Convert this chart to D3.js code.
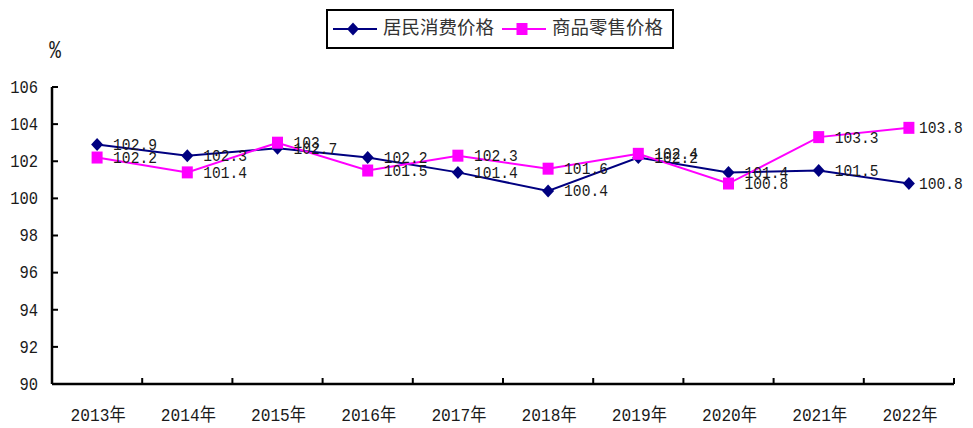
<!DOCTYPE html>
<html>
<head>
<meta charset="utf-8">
<script src="https://cdn.jsdelivr.net/npm/d3@7"></script>
<style>
  body { margin: 0; background: #fff; }
  svg { display: block; }
</style>
</head>
<body>
<div id="chart"></div>
<script>
const years = ['2013年', '2014年', '2015年', '2016年', '2017年', '2018年', '2019年', '2020年', '2021年', '2022年']
const cpi = [102.9, 102.3, 102.7, 102.2, 101.4, 100.4, 102.2, 101.4, 101.5, 100.8]
const retail = [102.2, 101.4, 103, 101.5, 102.3, 101.6, 102.4, 100.8, 103.3, 103.8]
const yTicks = [90, 92, 94, 96, 98, 100, 102, 104, 106]
const seriesNames = ['居民消费价格', '商品零售价格']

const W = 973, H = 428
const plotLeft = 52, plotRight = 954, plotTop = 87, plotBottom = 384
const numFont = '"Liberation Mono", "Noto Sans CJK SC", monospace'
const cjkFont = '"Noto Sans CJK SC", sans-serif'

const svg = d3.select('#chart').append('svg')
    .attr('width', W)
    .attr('height', H)

const x = d3.scaleBand().domain(years).range([plotLeft, plotRight])
const y = d3.scaleLinear().domain([90, 106]).range([plotBottom, plotTop])

// narrow, tall digits like the original song-style font
function numText(sel, size, sx) {
    return sel
        .attr('dominant-baseline', 'middle')
        .attr('font-family', numFont)
        .attr('font-size', size)
        .attr('fill', '#1a1a1a')
        .attr('transform', d => `translate(${d.tx},${d.ty}) scale(${sx},1)`)
}

// y axis, ticks pointing inward
svg.append('line')
    .attr('x1', plotLeft).attr('x2', plotLeft)
    .attr('y1', plotTop).attr('y2', plotBottom)
    .attr('stroke', '#000').attr('stroke-width', 2.5)
svg.selectAll('line.ytick')
    .data(yTicks)
    .enter().append('line')
    .attr('class', 'ytick')
    .attr('x1', plotLeft).attr('x2', plotLeft + 6)
    .attr('y1', d => y(d)).attr('y2', d => y(d))
    .attr('stroke', '#000').attr('stroke-width', 2)
svg.selectAll('text.ylabel')
    .data(yTicks.map(v => ({ v, tx: 38, ty: y(v) + 1 })))
    .enter().append('text')
    .attr('class', 'ylabel')
    .attr('text-anchor', 'end')
    .call(numText, 18, 0.86)
    .text(d => d.v)

// x axis, ticks at category boundaries pointing up
const bounds = years.map(d => x(d)).concat([plotRight])
svg.append('line')
    .attr('x1', plotLeft).attr('x2', plotRight)
    .attr('y1', plotBottom).attr('y2', plotBottom)
    .attr('stroke', '#000').attr('stroke-width', 2.5)
svg.selectAll('line.xtick')
    .data(bounds.slice(1))
    .enter().append('line')
    .attr('class', 'xtick')
    .attr('x1', d => d).attr('x2', d => d)
    .attr('y1', plotBottom).attr('y2', plotBottom - 6)
    .attr('stroke', '#000').attr('stroke-width', 2)
svg.selectAll('text.xlabel')
    .data(years.map(v => ({ v, tx: x(v) + x.bandwidth() / 2 + 1, ty: 416 })))
    .enter().append('text')
    .attr('class', 'xlabel')
    .attr('text-anchor', 'middle')
    .call(numText, 18, 0.9)
    .text(d => d.v)

svg.append('text')
    .data([{ tx: 55, ty: 51 }])
    .attr('text-anchor', 'middle')
    .call(numText, 26, 0.75)
    .text('%')

const cx = (d, i) => x(years[i]) + x.bandwidth() / 2
const line = d3.line().x(cx).y(d => y(d))

const series = [
    { name: seriesNames[0], values: cpi, color: '#000080', square: false },
    { name: seriesNames[1], values: retail, color: '#ff00ff', square: true }
]
const diamond = 'M0,-6.5L6,0L0,6.5L-6,0Z'
const square = 'M-5.5,-6L5.5,-6L5.5,6L-5.5,6Z'
const marker = s => s.square ? square : diamond

series.forEach(s => {
    svg.append('path')
        .datum(s.values)
        .attr('d', line)
        .attr('fill', 'none')
        .attr('stroke', s.color)
        .attr('stroke-width', 2)
})

series.forEach(s => {
    svg.selectAll(null)
        .data(s.values)
        .enter().append('path')
        .attr('transform', (d, i) => `translate(${cx(d, i)},${y(d)})`)
        .attr('d', marker(s))
        .attr('fill', s.color)
})

series.forEach(s => {
    svg.selectAll(null)
        .data(s.values.map((v, i) => ({ v, tx: Math.min(cx(v, i) + 16, 919), ty: y(v) + 1 })))
        .enter().append('text')
        .call(numText, 17, 0.86)
        .text(d => d.v)
})

// legend
const lg = svg.append('g')
lg.append('rect')
    .attr('x', 327).attr('y', 10)
    .attr('width', 346).attr('height', 38)
    .attr('fill', '#fff').attr('stroke', '#000').attr('stroke-width', 2)
const legendX = [333, 502]
series.forEach((s, i) => {
    const lx = legendX[i]
    lg.append('line')
        .attr('x1', lx).attr('x2', lx + 44)
        .attr('y1', 29).attr('y2', 29)
        .attr('stroke', s.color).attr('stroke-width', 2)
    lg.append('path')
        .attr('transform', `translate(${lx + 20},29)`)
        .attr('d', marker(s))
        .attr('fill', s.color)
    lg.append('text')
        .attr('x', lx + 50).attr('y', 29)
        .attr('dominant-baseline', 'middle')
        .attr('font-family', cjkFont)
        .attr('font-size', 18.5)
        .attr('fill', '#333')
        .text(s.name)
})
</script>
</body>
</html>
